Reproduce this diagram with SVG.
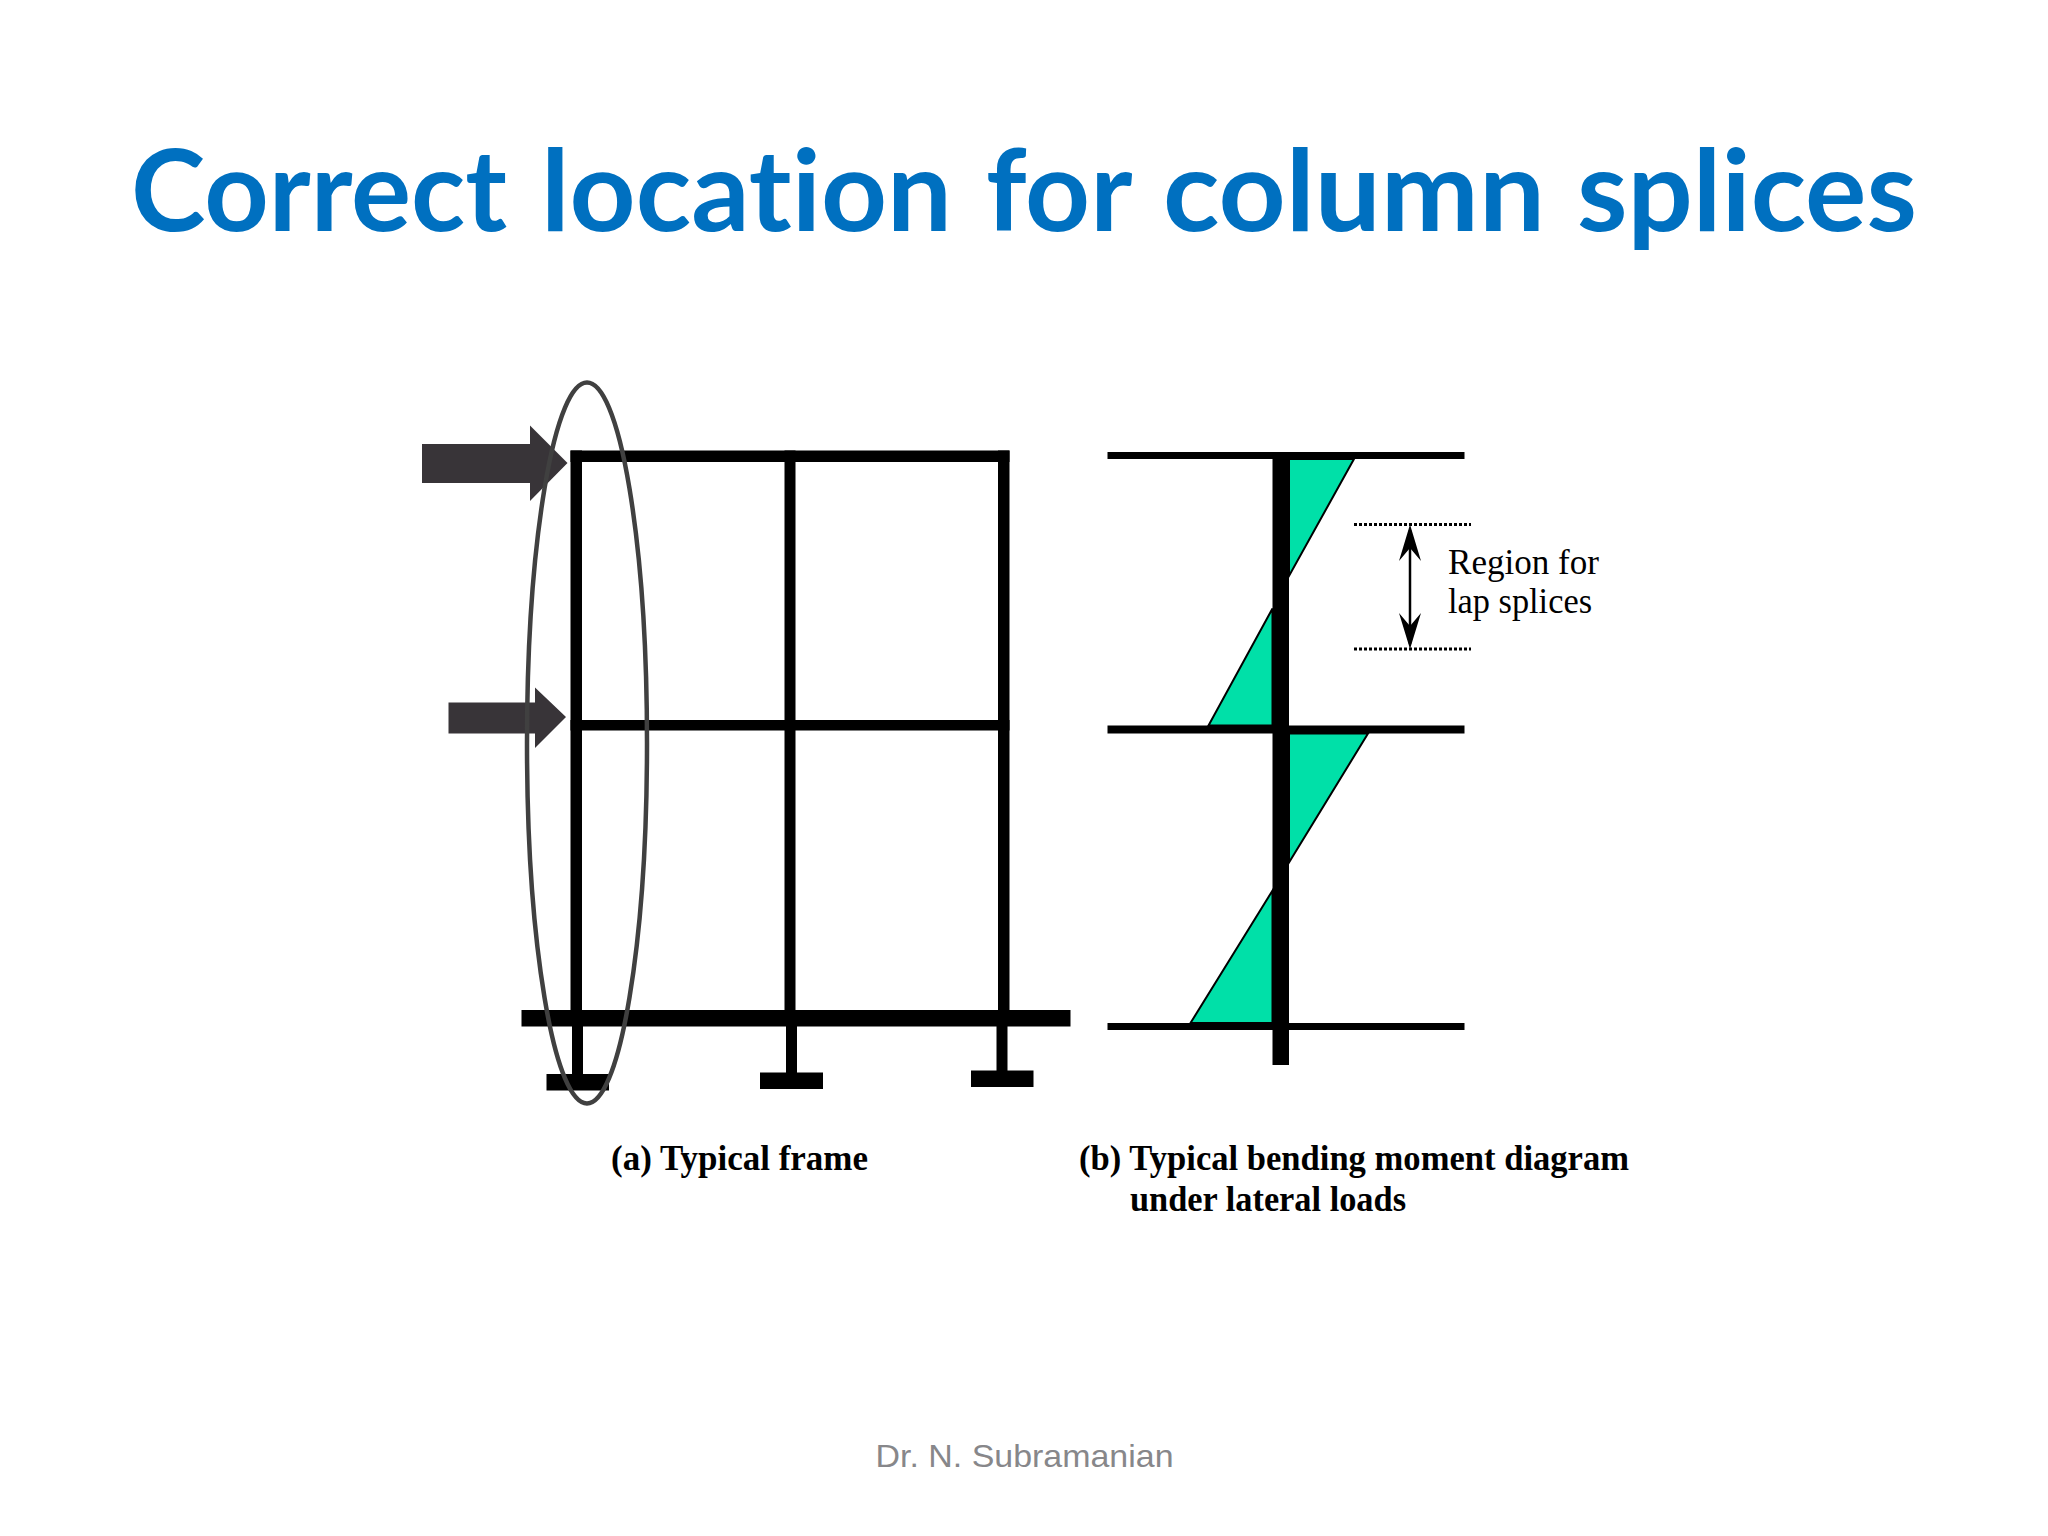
<svg xmlns="http://www.w3.org/2000/svg" width="2048" height="1536" viewBox="0 0 2048 1536">
<style>
.k{fill:#000}
.g{fill:#00e0a8}
.d{stroke:#000;stroke-width:2}
.a{fill:#383438}
.dot{fill:none;stroke:#000;stroke-width:3;stroke-dasharray:3 2}
.s{font-family:"Liberation Serif",serif;fill:#000}
.cap{font-size:36px;font-weight:bold}
.reg{font-size:36px}
</style>
<rect width="2048" height="1536" fill="#fff"/>
<text id="title" y="231" font-family="Lato,sans-serif" font-weight="bold" font-size="113" fill="#0070c0" style="font-variant-ligatures:none" lengthAdjust="spacingAndGlyphs"><tspan x="131" textLength="376" lengthAdjust="spacingAndGlyphs">Correct</tspan> <tspan x="541" textLength="411" lengthAdjust="spacingAndGlyphs">location</tspan> <tspan x="986" textLength="144" lengthAdjust="spacingAndGlyphs">for</tspan> <tspan x="1163" textLength="382" lengthAdjust="spacingAndGlyphs">column</tspan> <tspan x="1577" textLength="340" lengthAdjust="spacingAndGlyphs">splices</tspan></text>
<g id="frame">
<rect class="k" x="570.5" y="450.5" width="439" height="11.5"/>
<rect class="k" x="570.5" y="450.5" width="11.5" height="562"/>
<rect class="k" x="784.5" y="450.5" width="11" height="562"/>
<rect class="k" x="998" y="450.5" width="11.5" height="562"/>
<rect class="k" x="570.5" y="720" width="439" height="10.5"/>
<rect class="k" x="521.5" y="1010" width="549" height="16.5"/>
<rect class="k" x="572" y="1020" width="11" height="60"/>
<rect class="k" x="546.5" y="1074" width="62.5" height="16.5"/>
<rect class="k" x="786" y="1020" width="11" height="60"/>
<rect class="k" x="760" y="1072.5" width="63" height="16.5"/>
<rect class="k" x="996.5" y="1020" width="11" height="60"/>
<rect class="k" x="971" y="1070.5" width="62.5" height="16.5"/>
</g>
<g id="load-top"><polygon class="a" points="422,444 530,444 530,425.5 567.5,463 530,501 530,483 422,483"/></g>
<g id="load-mid"><polygon class="a" points="448.5,702.5 535,702.5 535,687.5 566,717 535,748 535,733.5 448.5,733.5"/></g>
<g id="highlight"><ellipse cx="587" cy="743" rx="60" ry="360.5" fill="none" stroke="#404040" stroke-width="4.5"/></g>
<g id="moment">
<polygon class="g d" points="1289,459 1354,459 1289,576"/>
<polygon class="g d" points="1272.5,608.5 1272.5,725.5 1208.5,725.5"/>
<polygon class="g d" points="1289,733.5 1368,733.5 1289,862.5"/>
<polygon class="g d" points="1272.5,890.5 1272.5,1023 1190.5,1023"/>
<rect class="k" x="1107.5" y="452" width="357" height="7"/>
<rect class="k" x="1107.5" y="725.5" width="357" height="8"/>
<rect class="k" x="1107.5" y="1023" width="357" height="7"/>
<rect class="k" x="1272.5" y="459" width="16.5" height="606"/>
</g>
<g id="region">
<path class="dot" d="M1354 524.5H1471M1354 649H1471"/>
<path d="M1410 530V644" fill="none" stroke="#000" stroke-width="2.5"/>
<path class="k" d="M1410 524.5L1421 561L1410 548L1399 561Z"/>
<path class="k" d="M1410 649L1421 613L1410 626L1399 613Z"/>
<text class="s reg" x="1448" y="574" textLength="151" lengthAdjust="spacingAndGlyphs">Region for</text>
<text class="s reg" x="1448" y="613" textLength="144" lengthAdjust="spacingAndGlyphs">lap splices</text>
</g>
<text id="cap-a" class="s cap" x="611" y="1170" textLength="257" lengthAdjust="spacingAndGlyphs">(a) Typical frame</text>
<text id="cap-b1" class="s cap" x="1079" y="1170" textLength="550" lengthAdjust="spacingAndGlyphs">(b) Typical bending moment diagram</text>
<text id="cap-b2" class="s cap" x="1130" y="1211" textLength="276" lengthAdjust="spacingAndGlyphs">under lateral loads</text>
<text id="footer" x="875.5" y="1467" font-family="Liberation Sans,sans-serif" font-size="32" fill="#87878a" textLength="298" lengthAdjust="spacingAndGlyphs">Dr. N. Subramanian</text>
</svg>
